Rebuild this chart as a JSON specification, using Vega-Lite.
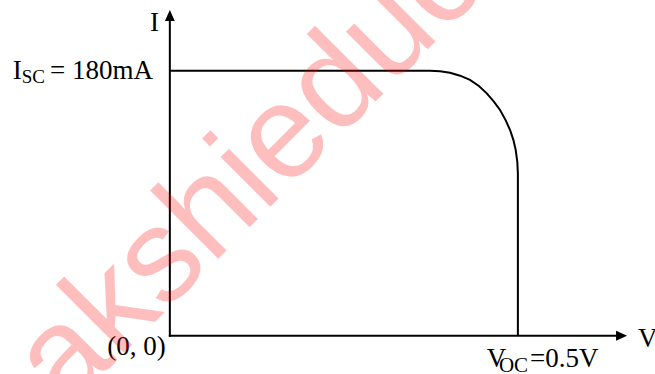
{
  "$schema": "https://vega.github.io/schema/vega-lite/v6.json",
  "width": 655,
  "height": 374,
  "autosize": {"type": "none"},
  "padding": 0,
  "config": {"view": {"stroke": null}},
  "datasets": {
    "curve": [
      {"o": 1, "V": 0, "I": 180},
      {"o": 2, "V": 0.3738, "I": 180},
      {"o": 3, "V": 0.3882, "I": 179.6},
      {"o": 4, "V": 0.4025, "I": 178.6},
      {"o": 5, "V": 0.417, "I": 176.6},
      {"o": 6, "V": 0.4312, "I": 173.7},
      {"o": 7, "V": 0.444, "I": 169.6},
      {"o": 8, "V": 0.4553, "I": 164.6},
      {"o": 9, "V": 0.4655, "I": 159.0},
      {"o": 10, "V": 0.4744, "I": 153.3},
      {"o": 11, "V": 0.4822, "I": 146.6},
      {"o": 12, "V": 0.4888, "I": 139.7},
      {"o": 13, "V": 0.4935, "I": 133.0},
      {"o": 14, "V": 0.4969, "I": 126.1},
      {"o": 15, "V": 0.4992, "I": 118.0},
      {"o": 16, "V": 0.5, "I": 110.3},
      {"o": 17, "V": 0.5, "I": 0}
    ],
    "axes": [
      {"V": 0, "I": 0, "V2": 0, "I2": 217.5},
      {"V": 0, "I": 0, "V2": 0.649, "I2": 0}
    ],
    "arrows": [
      {"dir": "up", "V": 0, "I": 217.5},
      {"dir": "right", "V": 0.649, "I": 0}
    ],
    "labels": [
      {"t": "I", "V": -0.0284, "I": 206.9},
      {"t": "I", "V": -0.2257, "I": 174.1},
      {"t": "= 180mA", "V": -0.1721, "I": 174.1},
      {"t": "(0, 0)", "V": -0.0898, "I": -13.1},
      {"t": "V", "V": 0.4553, "I": -21.05},
      {"t": "=0.5V", "V": 0.5174, "I": -21.05},
      {"t": "V", "V": 0.6726, "I": -7.47}
    ],
    "subSC": [
      {"t": "SC", "V": -0.2128, "I": 171.3}
    ],
    "subOC": [
      {"t": "OC", "V": 0.4728, "I": -24.45}
    ],
    "watermark": [
      {"t": "sakshieducation.com", "V": -0.2177, "I": -83.5}
    ]
  },
  "encoding": {
    "x": {"field": "V", "type": "quantitative", "scale": {"domain": [-0.244, 0.697], "nice": false, "zero": false}, "axis": null},
    "y": {"field": "I", "type": "quantitative", "scale": {"domain": [-26, 228], "nice": false, "zero": false}, "axis": null}
  },
  "layer": [
    {
      "data": {"name": "axes"},
      "mark": {"type": "rule", "color": "black", "strokeWidth": 2, "strokeCap": "square"},
      "encoding": {
        "x2": {"field": "V2"},
        "y2": {"field": "I2"}
      }
    },
    {
      "data": {"name": "arrows"},
      "mark": {"type": "point", "filled": true, "opacity": 1, "color": "black", "size": 121},
      "encoding": {
        "shape": {"field": "dir", "type": "nominal", "scale": {"domain": ["up", "right"], "range": ["M0,-1L0.9,1L-0.9,1Z", "M1,0L-1,0.9L-1,-0.9Z"]}, "legend": null}
      }
    },
    {
      "data": {"name": "curve"},
      "mark": {"type": "line", "color": "black", "strokeWidth": 2},
      "encoding": {
        "order": {"field": "o", "type": "quantitative"}
      }
    },
    {
      "data": {"name": "labels"},
      "mark": {"type": "text", "font": "Liberation Serif", "fontSize": 27, "align": "left", "baseline": "alphabetic", "color": "black"},
      "encoding": {"text": {"field": "t"}}
    },
    {
      "data": {"name": "subSC"},
      "mark": {"type": "text", "font": "Liberation Serif", "fontSize": 19, "align": "left", "baseline": "alphabetic", "color": "black"},
      "encoding": {"text": {"field": "t"}}
    },
    {
      "data": {"name": "subOC"},
      "mark": {"type": "text", "font": "Liberation Serif", "fontSize": 21, "align": "left", "baseline": "alphabetic", "color": "black"},
      "encoding": {"text": {"field": "t"}}
    },
    {
      "data": {"name": "watermark"},
      "mark": {"type": "text", "font": "Liberation Sans", "fontSize": 133, "angle": -45, "align": "left", "baseline": "alphabetic", "color": "#ff0000", "opacity": 0.25},
      "encoding": {"text": {"field": "t"}}
    }
  ]
}
